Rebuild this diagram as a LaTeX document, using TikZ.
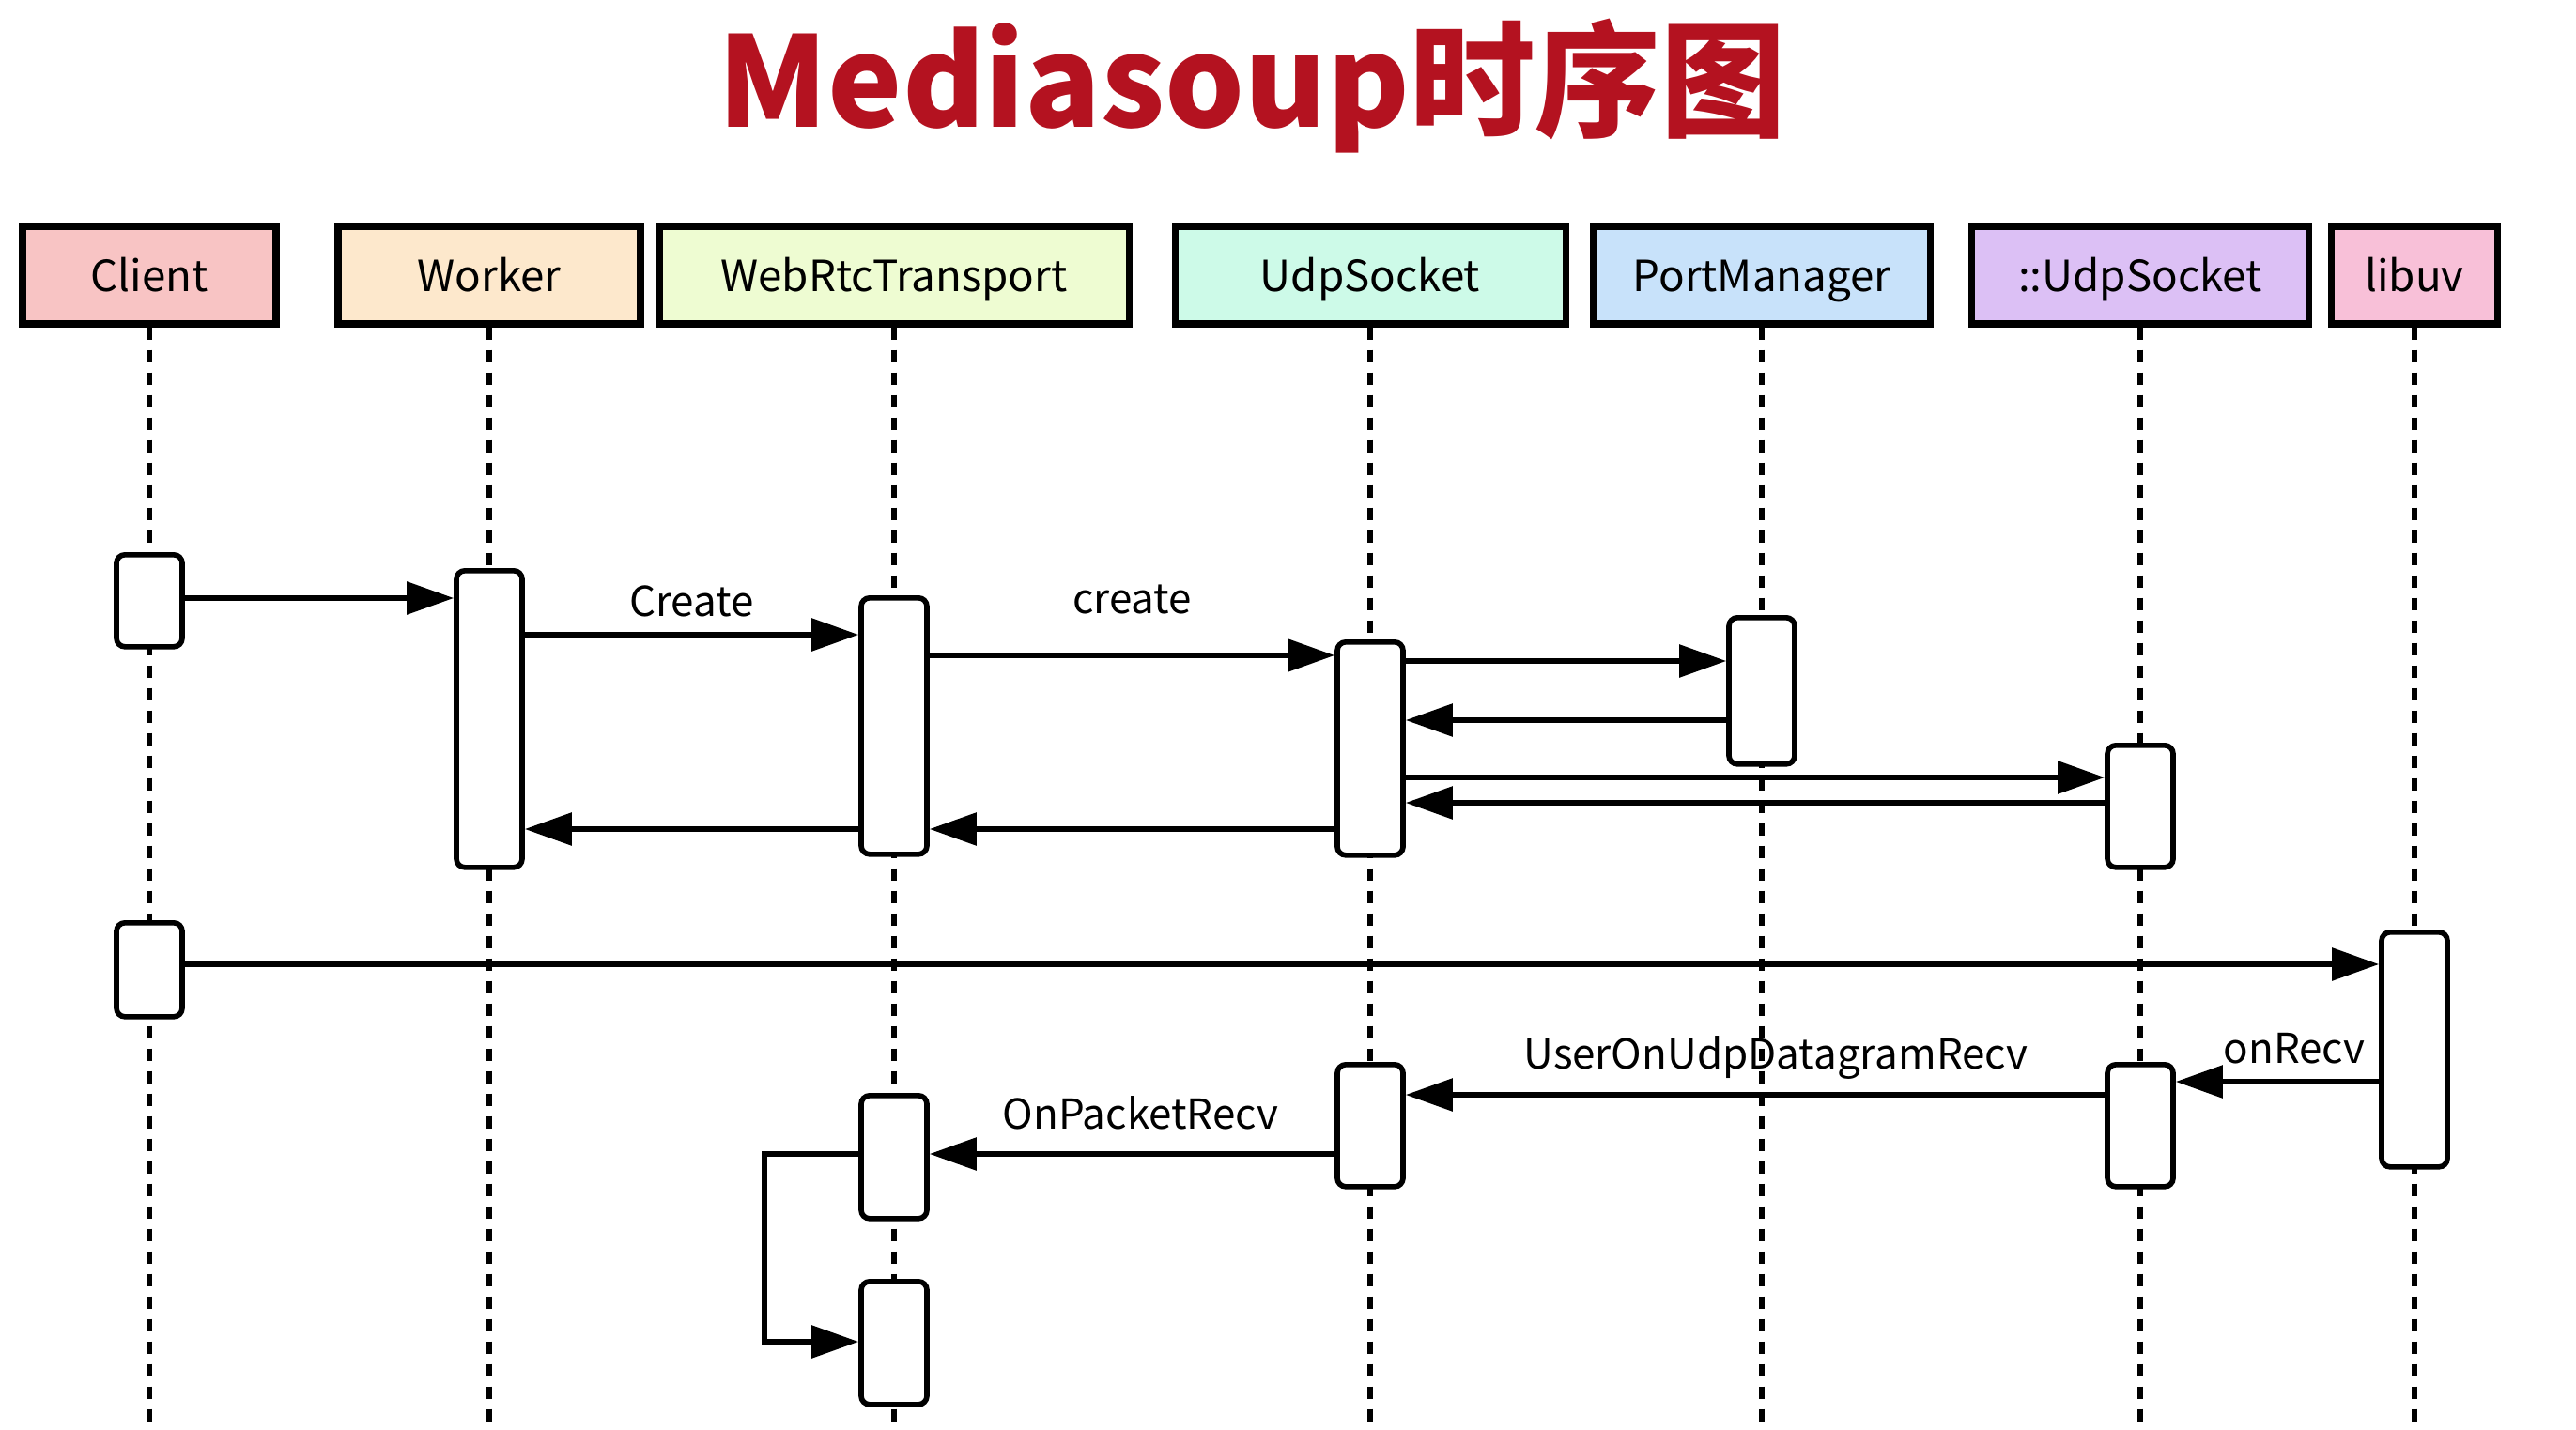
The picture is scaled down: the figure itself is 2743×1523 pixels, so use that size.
\documentclass[tikz,border=0pt]{standalone}
\usepackage{fontspec}
\setmainfont{Noto Sans CJK SC}
\usetikzlibrary{arrows.meta}
\definecolor{titlered}{RGB}{180,18,32}
\definecolor{clientfill}{RGB}{248,196,196}
\definecolor{workerfill}{RGB}{253,232,204}
\definecolor{transportfill}{RGB}{238,252,210}
\definecolor{udpfill}{RGB}{205,250,232}
\definecolor{portfill}{RGB}{200,226,250}
\definecolor{sockfill}{RGB}{220,192,245}
\definecolor{libuvfill}{RGB}{248,192,216}
\tikzset{
  head/.style={draw, line width=2pt, minimum height=10.4mm, inner sep=0pt, text height=4.2mm, text depth=0.8mm, font=\fontsize{13}{15}\selectfont},
  life/.style={line width=1.8pt, dash pattern=on 1.3mm off 1.1mm},
  act/.style={draw, fill=white, line width=1.6pt, rounded corners=0.9mm, minimum width=7mm, inner sep=0pt, anchor=north},
  msg/.style={line width=1.6pt, -{Triangle[length=5mm,width=3.4mm]}},
  lbl/.style={anchor=base, inner sep=0pt, font=\fontsize{12.5}{15}\selectfont}
}
\begin{document}
\begin{tikzpicture}[x=0.1mm, y=-0.1mm]
\useasboundingbox (0,0) rectangle (2743,1523);
\node[anchor=base, text=titlered, font=\fontsize{38}{44}\selectfont\bfseries] (title) at (1333,136) {Mediasoup时序图};
% heads
\node[head, fill=clientfill, minimum width=27mm] (client) at (159,293) {Client};
\node[head, fill=workerfill, minimum width=32.2mm] (worker) at (521,293) {Worker};
\node[head, fill=transportfill, minimum width=50mm] (transport) at (952,293) {WebRtcTransport};
\node[head, fill=udpfill, minimum width=41.6mm] (udp) at (1459,293) {UdpSocket};
\node[head, fill=portfill, minimum width=35.9mm] (port) at (1876,293) {PortManager};
\node[head, fill=sockfill, minimum width=35.9mm] (sock) at (2279,293) {::UdpSocket};
\node[head, fill=libuvfill, minimum width=17.7mm] (libuv) at (2571,293) {libuv};
% life lines
\draw[life] (client.south) -- (client |- 0,1523);
\draw[life] (worker.south) -- (worker |- 0,1523);
\draw[life] (transport.south) -- (transport |- 0,1523);
\draw[life] (udp.south) -- (udp |- 0,1523);
\draw[life] (port.south) -- (port |- 0,1523);
\draw[life] (sock.south) -- (sock |- 0,1523);
\draw[life] (libuv.south) -- (libuv |- 0,1523);
% activations
\node[act, minimum height=9.8mm] (a1) at (client |- 0,588) {};
\node[act, minimum height=31.6mm] (w1) at (worker |- 0,605) {};
\node[act, minimum height=27.3mm] (t1) at (transport |- 0,634) {};
\node[act, minimum height=22.7mm] (u1) at (udp |- 0,681) {};
\node[act, minimum height=15.6mm] (p1) at (port |- 0,655) {};
\node[act, minimum height=13mm] (s1) at (sock |- 0,791) {};
\node[act, minimum height=10mm] (a2) at (client |- 0,980) {};
\node[act, minimum height=25mm] (l1) at (libuv |- 0,990) {};
\node[act, minimum height=13mm] (s2) at (sock |- 0,1131) {};
\node[act, minimum height=13mm] (u2) at (udp |- 0,1131) {};
\node[act, minimum height=13.1mm] (t2) at (transport |- 0,1164) {};
\node[act, minimum height=13.1mm] (t3) at (transport |- 0,1362) {};
% messages
\draw[msg] (a1.east |- 0,637) -- (w1.west |- 0,637);
\draw[msg] (w1.east |- 0,676) -- node[lbl, yshift=2mm] {Create} (t1.west |- 0,676);
\draw[msg] (t1.east |- 0,698) -- node[lbl, yshift=4.5mm] {create} (u1.west |- 0,698);
\draw[msg] (u1.east |- 0,704) -- (p1.west |- 0,704);
\draw[msg] (p1.west |- 0,767) -- (u1.east |- 0,767);
\draw[msg] (u1.east |- 0,828) -- (s1.west |- 0,828);
\draw[msg] (s1.west |- 0,855) -- (u1.east |- 0,855);
\draw[msg] (u1.west |- 0,883) -- (t1.east |- 0,883);
\draw[msg] (t1.west |- 0,883) -- (w1.east |- 0,883);
\draw[msg] (a2.east |- 0,1027) -- (l1.west |- 0,1027);
\draw[msg] (l1.west |- 0,1152) -- node[lbl, yshift=2mm, xshift=1.8mm] {onRecv} (s2.east |- 0,1152);
\draw[msg] (s2.west |- 0,1166) -- node[lbl, yshift=2.8mm, xshift=2.2mm] {UserOnUdpDatagramRecv} (u2.east |- 0,1166);
\draw[msg] (u2.west |- 0,1229) -- node[lbl, yshift=2.7mm, xshift=0.9mm] {OnPacketRecv} (t2.east |- 0,1229);
\draw[msg] (t2.west |- 0,1229) -- ++(-100,0) |- (t3.west |- 0,1429);
\end{tikzpicture}
\end{document}
